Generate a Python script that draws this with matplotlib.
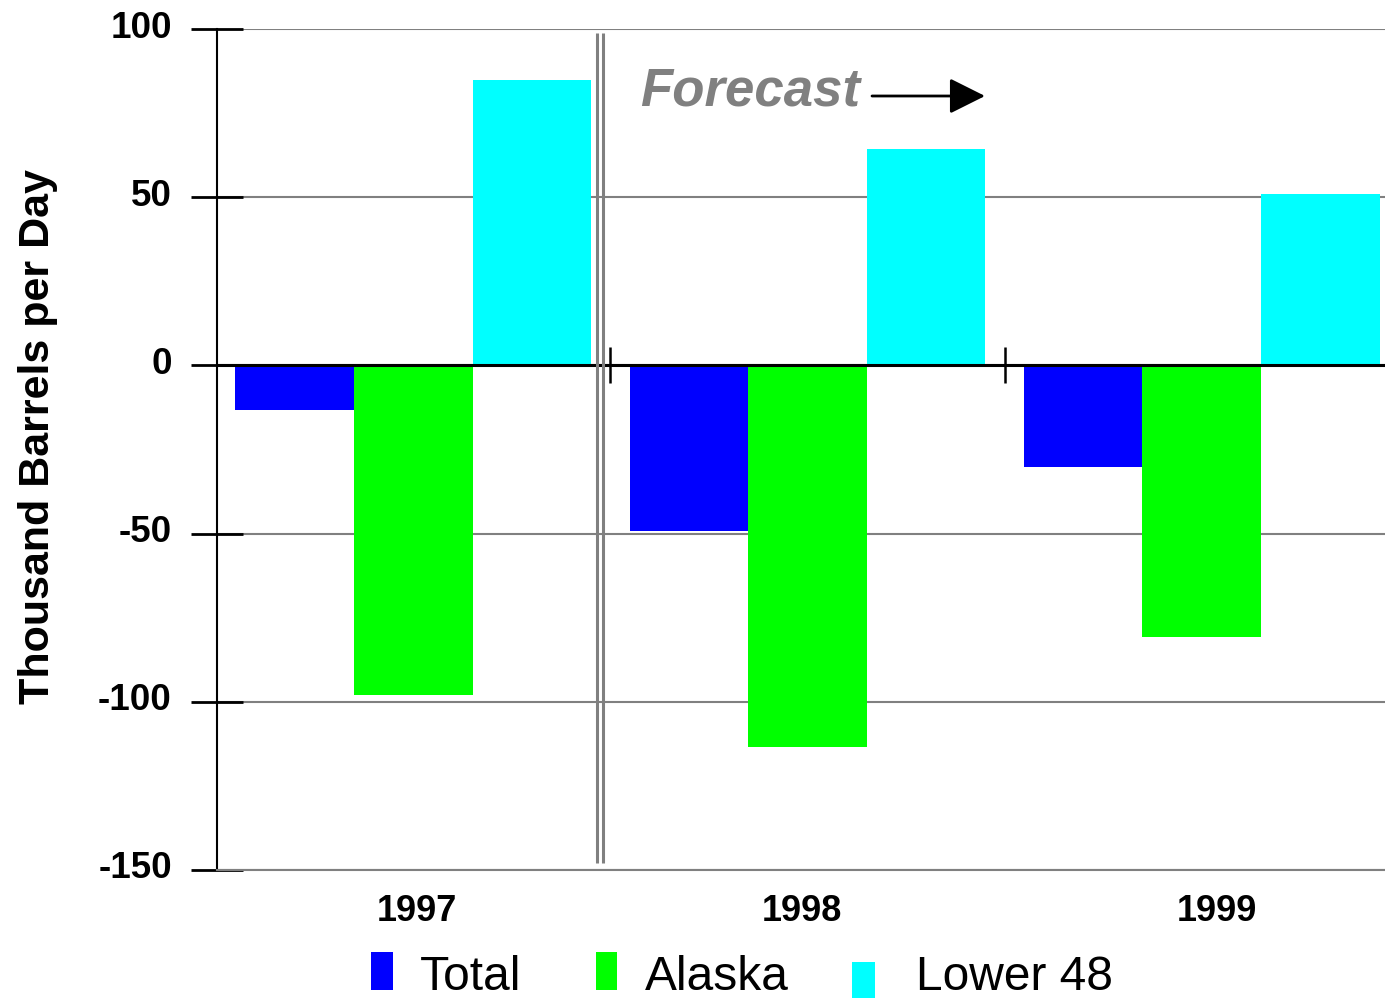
import matplotlib
matplotlib.use("Agg")
import matplotlib.pyplot as plt
import matplotlib.transforms as mtransforms
from matplotlib.patches import Rectangle
import numpy as np

plt.rcParams['font.family'] = ['Liberation Sans', 'DejaVu Sans']
plt.rcParams['axes.unicode_minus'] = False

years = ["1997", "1998", "1999"]
series_names = ["Total", "Alaska", "Lower 48"]
total = [-13.3, -49.2, -30.2]
alaska = [-98.0, -113.4, -80.7]
lower48 = [84.8, 64.3, 51.0]
series_colors = ["#0000FF", "#00FF00", "#00FFFF"]
y_ticks = [100, 50, 0, -50, -100, -150]

W, H = 1385, 998
fig = plt.figure(figsize=(W / 100, H / 100), dpi=100)
ax = fig.add_axes([217 / W, 1 - 870 / H, 1 - 217 / W, (870 - 29) / H])

x = np.arange(len(years))
width = 0.301
for k, (vals, col) in enumerate(zip([total, alaska, lower48], series_colors)):
    ax.bar(x + (k - 1) * width, vals, width=width, color=col, zorder=2, linewidth=0)

ax.set_xlim(-0.498, 2.465)
ax.set_ylim(-150, 100)

# horizontal grid and zero line
ax.set_yticks(y_ticks)
ax.yaxis.grid(True, color="#808080", linewidth=1.5, zorder=0)
ax.set_axisbelow(True)
ax.axhline(0, color="black", linewidth=2.2, zorder=3)

for s in ["top", "right"]:
    ax.spines[s].set_visible(False)
ax.spines["bottom"].set_color("#808080")
ax.spines["bottom"].set_linewidth(1.5)
ax.spines["left"].set_color("black")
ax.spines["left"].set_linewidth(1.5)

ax.tick_params(axis="y", direction="inout", length=37, width=2, color="black",
               pad=14, labelsize=26.5)
offset = mtransforms.ScaledTranslation(0, 5 / 100, fig.dpi_scale_trans)
for lab in ax.get_yticklabels():
    lab.set_fontweight("bold")
    lab.set_transform(lab.get_transform() + offset)

ax.set_xticks([0.009, 0.985, 2.038])
ax.set_xticklabels(years, fontsize=26, fontweight="bold")
ax.tick_params(axis="x", length=0, pad=17)

# category separators on the zero line
ax.vlines([0.5, 1.5], -5.3, 5.4, color="black", linewidth=1.8, zorder=4)

# forecast divider (double line)
ax.vlines([0.465, 0.481], -147.9, 98.9, color="#808080", linewidth=2.2, zorder=4)

fig.text(640 / W, 1 - 92 / H, "Forecast", fontsize=38, fontweight="bold",
         fontstyle="italic", color="#808080", ha="left", va="center")
ax.annotate("", xy=(985 / W, 1 - 96 / H), xytext=(872 / W, 1 - 96 / H),
            xycoords="figure fraction", textcoords="figure fraction",
            arrowprops=dict(arrowstyle="-|>,head_length=1.1,head_width=0.55",
                            mutation_scale=20, color="black", lw=2,
                            shrinkA=0, shrinkB=0))

fig.text(38 / W, 1 - 437 / H, "Thousand Barrels per Day", rotation=90,
         fontsize=31, fontweight="bold", ha="center", va="center")

# legend
legend_items = [
    (371, 952, 22, 38, 420),
    (596, 952, 21, 38, 645),
    (852, 962, 23, 38, 916),
]
for (px, py, pw, ph, tx), name, col in zip(legend_items, series_names, series_colors):
    fig.patches.append(Rectangle((px / W, 1 - (py + ph) / H), pw / W, ph / H,
                                 transform=fig.transFigure, color=col, linewidth=0))
    fig.text(tx / W, 1 - 990 / H, name, fontsize=34.5, ha="left", va="baseline")

fig.savefig("out.png", dpi=100)
